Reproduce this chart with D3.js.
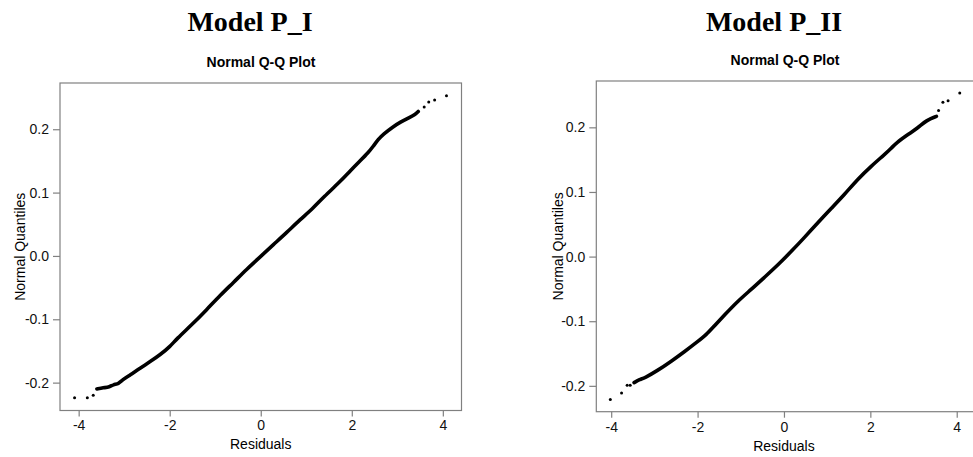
<!DOCTYPE html>
<meta charset="utf-8">
<style>
  body { margin: 0; background: #fff; }
  svg { display: block; }
</style>
<script src="https://d3js.org/d3.v7.min.js"></script>
<div id="chart"></div>
<script>

// panel titles
var titles = ["Model P_I", "Model P_II"];
var subTitle = "Normal Q-Q Plot";
var xLabel = "Residuals";
var yLabel = "Normal Quantiles";

var xTicks = [-4, -2, 0, 2, 4];
var xTickLabels = ["-4", "-2", "0", "2", "4"];
var yTicks = [-0.2, -0.1, 0.0, 0.1, 0.2];
var yTickLabels = ["-0.2", "-0.1", "0.0", "0.1", "0.2"];

// dense body of the Q-Q points, model P_I
var bodyI = [
  [-3.60, -0.210], [-3.46, -0.208], [-3.32, -0.207], [-3.24, -0.203], [-3.12, -0.202],
  [-3.05, -0.196], [-2.87, -0.188], [-2.65, -0.177], [-2.43, -0.167], [-2.21, -0.156],
  [-1.99, -0.143], [-1.85, -0.131], [-1.52, -0.109], [-1.19, -0.085],
  [-0.89, -0.062], [-0.60, -0.042], [-0.31, -0.021], [-0.02, -0.002], [0.28, 0.018],
  [0.57, 0.037], [0.86, 0.057], [1.16, 0.076], [1.38, 0.093], [1.74, 0.117],
  [1.96, 0.134], [2.18, 0.150], [2.36, 0.163], [2.47, 0.173], [2.58, 0.184],
  [2.69, 0.192], [2.91, 0.204], [3.06, 0.211], [3.28, 0.219], [3.39, 0.223], [3.46, 0.228]
];
// isolated tail points, model P_I
var tailI = [
  [-4.09, -0.224], [-3.81, -0.224], [-3.68, -0.220],
  [3.59, 0.235], [3.69, 0.243], [3.82, 0.246], [4.08, 0.253]
];

// model P_II
var bodyII = [
  [-3.47, -0.195], [-3.34, -0.190], [-3.23, -0.188], [-2.92, -0.176], [-2.61, -0.162],
  [-2.30, -0.147], [-1.99, -0.131], [-1.80, -0.121], [-1.61, -0.107], [-1.37, -0.090],
  [-1.07, -0.069], [-0.76, -0.051], [-0.45, -0.032], [-0.14, -0.013], [0.17, 0.008],
  [0.48, 0.030], [0.79, 0.053], [1.10, 0.075], [1.40, 0.096], [1.71, 0.120],
  [2.02, 0.140], [2.33, 0.158], [2.49, 0.168], [2.60, 0.176], [2.87, 0.189],
  [3.10, 0.199], [3.30, 0.211], [3.53, 0.217]
];
var tailII = [
  [-4.02, -0.221], [-3.76, -0.211], [-3.63, -0.199], [-3.56, -0.199],
  [3.58, 0.226], [3.68, 0.239], [3.80, 0.241], [4.07, 0.253]
];

var width = 973, height = 457;

var svg = d3.select("#chart")
  .append("svg")
    .attr("width", width)
    .attr("height", height);

var panels = [
  { title: titles[0], body: bodyI, tail: tailI,
    box: {x0: 60, x1: 461.5, y0: 83, y1: 410.5},
    xDom: [-4.41, 4.41], yDom: [-0.244, 0.273],
    titleX: 250, subX: 261, subY: 67, ylabX: 25, xlabY: 449 },
  { title: titles[1], body: bodyII, tail: tailII,
    box: {x0: 596.3, x1: 974, y0: 81, y1: 411.7},
    xDom: [-4.345, 4.40], yDom: [-0.240, 0.2717],
    titleX: 774, subX: 785, subY: 65, ylabX: 563, xlabY: 451 }
];

var sans = "'Liberation Sans', Arial, sans-serif";

panels.forEach(function(p) {
  var x = d3.scaleLinear().domain(p.xDom).range([p.box.x0, p.box.x1]);
  var y = d3.scaleLinear().domain(p.yDom).range([p.box.y1, p.box.y0]);
  var g = svg.append("g");

  // big title
  g.append("text")
    .attr("x", p.titleX).attr("y", 31)
    .attr("text-anchor", "middle")
    .style("font-family", "'Liberation Serif', serif")
    .style("font-weight", "bold")
    .style("font-size", "28px")
    .text(p.title);

  g.append("text")
    .attr("x", p.subX).attr("y", p.subY)
    .attr("text-anchor", "middle")
    .style("font-family", sans)
    .style("font-weight", "bold")
    .style("font-size", "14px")
    .text(subTitle);

  // plot box
  g.append("rect")
    .attr("x", p.box.x0).attr("y", p.box.y0)
    .attr("width", p.box.x1 - p.box.x0)
    .attr("height", p.box.y1 - p.box.y0)
    .attr("fill", "none")
    .attr("stroke", "#808080")
    .attr("stroke-width", 1.2);

  var yAxis = g.append("g")
    .attr("transform", "translate(" + p.box.x0 + ",0)")
    .call(d3.axisLeft(y).tickValues(yTicks)
      .tickFormat(function(d, i) { return yTickLabels[i]; })
      .tickSize(7).tickPadding(4));

  var xAxis = g.append("g")
    .attr("transform", "translate(0," + p.box.y1 + ")")
    .call(d3.axisBottom(x).tickValues(xTicks)
      .tickFormat(function(d, i) { return xTickLabels[i]; })
      .tickSize(6).tickPadding(4));

  [xAxis, yAxis].forEach(function(a) {
    a.select(".domain").remove();
    a.selectAll("line").attr("stroke", "#808080").attr("stroke-width", 1.2);
    a.selectAll("text")
      .attr("fill", "#111")
      .style("font-family", sans)
      .style("font-size", "14px");
  });

  g.append("text")
    .attr("x", x(0)).attr("y", p.xlabY)
    .attr("text-anchor", "middle")
    .style("font-family", sans)
    .style("font-size", "14px")
    .text(xLabel);

  g.append("text")
    .attr("transform", "translate(" + p.ylabX + "," + ((p.box.y0 + p.box.y1) / 2) + ") rotate(-90)")
    .attr("text-anchor", "middle")
    .style("font-family", sans)
    .style("font-size", "14px")
    .text(yLabel);

  // the dense run of points reads as a thick band
  var line = d3.line()
    .x(function(d) { return x(d[0]); })
    .y(function(d) { return y(d[1]); })
    .curve(d3.curveBasis);

  g.append("path")
    .datum(p.body)
    .attr("d", line)
    .attr("fill", "none")
    .attr("stroke", "#000")
    .attr("stroke-width", 3.6)
    .attr("stroke-linecap", "round")
    .attr("stroke-linejoin", "round");

  g.selectAll(".tail")
    .data(p.tail)
    .enter().append("circle")
      .attr("class", "tail")
      .attr("cx", function(d) { return x(d[0]); })
      .attr("cy", function(d) { return y(d[1]); })
      .attr("r", 1.5)
      .attr("fill", "#000");
});

</script>
